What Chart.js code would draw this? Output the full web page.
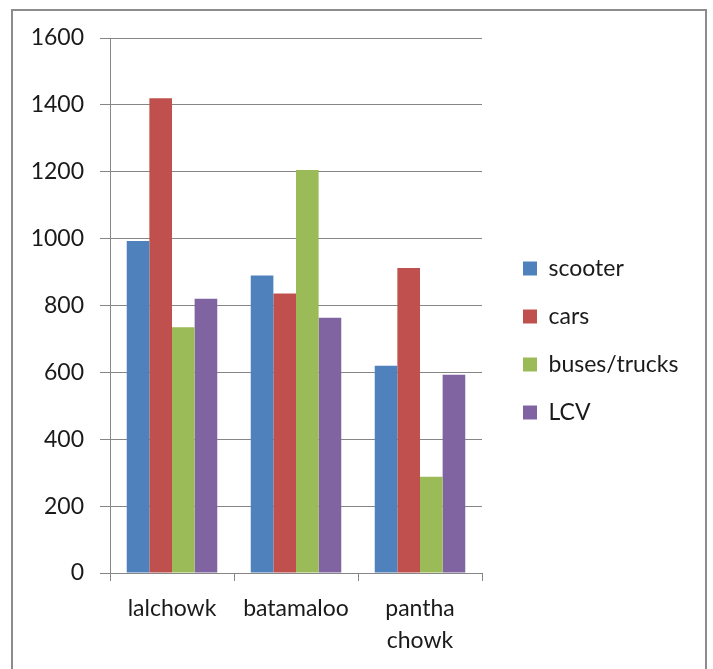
<!DOCTYPE html>
<html>
<head>
<meta charset="utf-8">
<script src="https://cdn.jsdelivr.net/npm/chart.js@4.4.0/dist/chart.umd.min.js"></script>
<style>
  html, body { margin: 0; padding: 0; background: #fff; overflow: hidden; }
  #cadre {
    position: absolute; left: 11px; top: 9px; width: 696px; height: 700px;
    border: 2px solid #8c8c8c; box-sizing: border-box;
  }
  #zone { position: absolute; left: 0; top: 0; width: 713px; height: 669px; }
</style>
</head>
<body>
<div id="cadre"></div>
<div id="zone"><canvas id="graphe"></canvas></div>
<script>
const lieux = [['lalchowk'], ['batamaloo'], ['pantha', 'chowk']];
const scooter = [993, 890, 620];
const cars = [1420, 836, 912];
const busesTrucks = [735, 1205, 288];
const lcv = [820, 763, 593];
const graduations = [0, 200, 400, 600, 800, 1000, 1200, 1400, 1600];

const POLICE = 'Lato, "Open Sans", sans-serif';
const GRIS = '#868686';

// décale la légende et l'élargit (sinon le texte est rogné)
const decalageLegende = {
    id: 'decalageLegende',
    afterLayout(chart) {
        const lg = chart.legend;
        if (!lg) return;
        const dx = 16, dy = -13;
        lg.left += dx;
        lg.right = 710;
        lg.width = lg.right - lg.left;
        lg.top += dy; lg.bottom += dy;
    }
};

new Chart(document.getElementById('graphe'), {
    type: 'bar',
    data: {
        labels: lieux,
        datasets: [
            { label: 'scooter', data: scooter, backgroundColor: '#4F81BD' },
            { label: 'cars', data: cars, backgroundColor: '#C0504D' },
            { label: 'buses/trucks', data: busesTrucks, backgroundColor: '#9BBB59' },
            { label: 'LCV', data: lcv, backgroundColor: '#8064A2' }
        ]
    },
    options: {
        responsive: true,
        maintainAspectRatio: false,
        animation: false,
        layout: { padding: { top: 38, left: 20, right: 77, bottom: 0 } },
        datasets: { bar: { categoryPercentage: 0.73, barPercentage: 1.0, borderWidth: 0 } },
        scales: {
            x: {
                grid: { display: true, drawOnChartArea: false, offset: true, color: GRIS, tickLength: 8 },
                border: { display: true, color: GRIS, width: 1 },
                ticks: { color: '#1a1a1a', font: { family: POLICE, size: 23, lineHeight: 1.4 }, padding: 11, maxRotation: 0 },
                afterFit: s => { s.height = 96; }
            },
            y: {
                min: 0,
                max: 1600,
                afterBuildTicks: s => { s.ticks = graduations.map(v => ({ value: v })); },
                grid: { color: GRIS, tickLength: 10 },
                border: { display: true, color: GRIS, width: 1 },
                ticks: { color: '#1a1a1a', font: { family: POLICE, size: 23 }, padding: 16, callback: v => String(v) },
                afterFit: s => { s.width = 90; }
            }
        },
        plugins: {
            legend: {
                position: 'right',
                labels: {
                    boxWidth: 14,
                    boxHeight: 14,
                    padding: 25,
                    color: '#1a1a1a',
                    font: { family: POLICE, size: 23 }
                }
            },
            tooltip: { enabled: false }
        }
    },
    plugins: [decalageLegende]
});
</script>
</body>
</html>
